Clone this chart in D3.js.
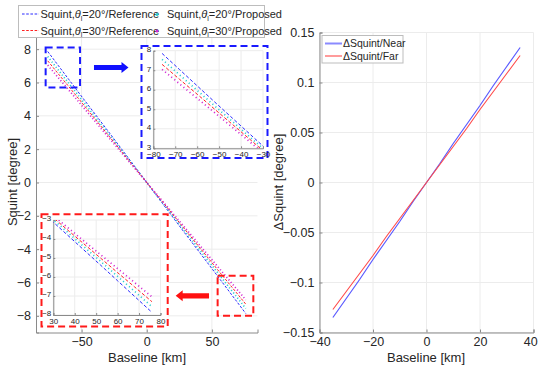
<!DOCTYPE html>
<html>
<head>
<meta charset="utf-8">
<script src="https://cdn.jsdelivr.net/npm/d3@7"></script>
<style>
  html, body { margin: 0; padding: 0; background: #fff; }
  svg { display: block; font-family: "Liberation Sans", Arial, sans-serif; }
</style>
</head>
<body>
<svg id="chart" width="539" height="367"></svg>
<script>
// ---- Left panel: squint vs. baseline ----
const baseline = [-76, -68, -60, -52, -44, -36, -28, -20, -12, -4, 4, 12, 20, 28, 36, 44, 52, 60, 68, 76];
const ref20 = [7.86, 7.03, 6.20, 5.37, 4.55, 3.73, 2.91, 2.08, 1.25, 0.42, -0.42, -1.25, -2.08, -2.91, -3.73, -4.55, -5.37, -6.20, -7.03, -7.86];
const prop20 = [7.56, 6.76, 5.97, 5.17, 4.38, 3.58, 2.79, 1.99, 1.19, 0.40, -0.40, -1.19, -1.99, -2.79, -3.58, -4.38, -5.17, -5.97, -6.76, -7.56];
const ref30 = [7.30, 6.53, 5.77, 5.00, 4.23, 3.46, 2.69, 1.92, 1.15, 0.38, -0.38, -1.15, -1.92, -2.69, -3.46, -4.23, -5.00, -5.77, -6.53, -7.30];
const prop30 = [7.04, 6.30, 5.56, 4.82, 4.08, 3.33, 2.59, 1.85, 1.11, 0.37, -0.37, -1.11, -1.85, -2.59, -3.33, -4.08, -4.82, -5.56, -6.30, -7.04];

const leftXTicks = [-50, 0, 50];
const leftYTicks = [-8, -6, -4, -2, 0, 2, 4, 6, 8];
const upperInsetXTicks = [-80, -70, -60, -50, -40, -30];
const upperInsetYTicks = [3, 4, 5, 6, 7, 8];
const lowerInsetXTicks = [30, 40, 50, 60, 70, 80];
const lowerInsetYTicks = [-8, -7, -6, -5, -4, -3];

// ---- Right panel: squint difference vs. baseline ----
const dBaseline = [-35, -30, -25, -20, -15, -10, -5, 0, 5, 10, 15, 20, 25, 30, 35];
const dNear = [-0.135, -0.116, -0.097, -0.077, -0.058, -0.039, -0.019, 0, 0.019, 0.039, 0.058, 0.077, 0.097, 0.116, 0.135];
const dFar = [-0.127, -0.109, -0.091, -0.073, -0.054, -0.036, -0.018, 0, 0.018, 0.036, 0.054, 0.073, 0.091, 0.109, 0.127];
const rightXTicks = [-40, -20, 0, 20, 40];
const rightYTicks = [-0.15, -0.1, -0.05, 0, 0.05, 0.1, 0.15];

const series = [
  { name: "ref20", values: ref20, color: "#2b2bff", kind: "dash", angle: "20", label: "Reference" },
  { name: "prop20", values: prop20, color: "#2ccfcf", kind: "dot", angle: "20", label: "Proposed" },
  { name: "ref30", values: ref30, color: "#ff2222", kind: "dash", angle: "30", label: "Reference" },
  { name: "prop30", values: prop30, color: "#d22ad2", kind: "dot", angle: "30", label: "Proposed" }
];

const svg = d3.select("#chart");
const axisColor = "#8a8a8a";
const gridColor = "#ececec";
const textColor = "#262626";

function styleFor(sel, s, scale) {
  sel.attr("fill", "none").attr("stroke", s.color);
  if (s.kind === "dash") {
    sel.attr("stroke-width", 1).attr("stroke-dasharray", (2.6 * scale) + "," + (1.6 * scale));
  } else {
    sel.attr("stroke-width", 1.7).attr("stroke-dasharray", "1.1," + (2.2 * scale)).attr("stroke-linecap", "butt");
  }
}

// Draws a set of axes (grid, lines, ticks, labels) in a given rectangle
function drawAxes(g, x, y, xt, yt, opts) {
  const [x0, x1] = x.range();
  const [y0, y1] = y.range(); // y0 bottom, y1 top
  const grid = g.append("g");
  xt.forEach(v => grid.append("line").attr("x1", x(v)).attr("x2", x(v)).attr("y1", y0).attr("y2", y1)
    .attr("stroke", gridColor).attr("stroke-width", 1));
  yt.forEach(v => grid.append("line").attr("y1", y(v)).attr("y2", y(v)).attr("x1", x0).attr("x2", x1)
    .attr("stroke", gridColor).attr("stroke-width", 1));

  const xa = g.append("g").attr("transform", `translate(0,${y0})`)
    .call(d3.axisBottom(x).tickValues(xt).tickSize(-opts.tick).tickPadding(opts.pad).tickFormat(opts.xfmt || d3.format("d")));
  const ya = g.append("g").attr("transform", `translate(${x0},0)`)
    .call(d3.axisLeft(y).tickValues(yt).tickSize(-opts.tick).tickPadding(opts.pad).tickFormat(opts.yfmt || d3.format("d")));
  [xa, ya].forEach(a => {
    a.select(".domain").attr("stroke", axisColor);
    a.selectAll(".tick line").attr("stroke", axisColor);
    a.selectAll(".tick text").attr("fill", textColor).attr("font-size", opts.font)
      .attr("font-family", "'Liberation Sans', Arial, sans-serif");
  });
  return { xa, ya };
}

// ---------------- Left panel ----------------
const xL = d3.scaleLinear().domain([-85, 85]).range([36, 257.5]);
const yL = d3.scaleLinear().domain([-9, 9]).range([332.5, 32.5]);
const gL = svg.append("g");
drawAxes(gL, xL, yL, leftXTicks, leftYTicks, { tick: 3, pad: 5, font: "12.5px" });

const lineL = d3.line().x((d, i) => xL(baseline[i])).y(d => yL(d));
series.forEach(s => {
  gL.append("path").datum(s.values).attr("d", lineL).call(sel => styleFor(sel, s, 1));
});

// axis titles
svg.append("text").attr("x", 147).attr("y", 362).attr("text-anchor", "middle")
  .attr("font-size", "13px").attr("fill", textColor).text("Baseline [km]");
svg.append("text").attr("transform", "translate(17,182) rotate(-90)").attr("text-anchor", "middle")
  .attr("font-size", "13px").attr("fill", textColor).text("Squint [degree]");

// zoom-region markers on the main plot
const upperRegion = { x: [-77.6, -51.2], y: [5.7, 8.1] };
const lowerRegion = { x: [54.4, 81.8], y: [-8.0, -5.6] };
function regionBox(r, color) {
  svg.append("rect")
    .attr("x", xL(r.x[0])).attr("y", yL(r.y[1]))
    .attr("width", xL(r.x[1]) - xL(r.x[0])).attr("height", yL(r.y[0]) - yL(r.y[1]))
    .attr("fill", "none").attr("stroke", color).attr("stroke-width", 2).attr("stroke-dasharray", "7,4");
}
regionBox(upperRegion, "#1a1aff");
regionBox(lowerRegion, "#ff1a1a");

// arrows pointing at the insets
function arrow(fromX, toX, yv, color) {
  const y0 = yL(yv);
  const xa = xL(fromX), xb = xL(toX);
  const dir = Math.sign(xb - xa);
  const headLen = 7, headH = 5.5, shaftH = 2.6;
  const xh = xb - dir * headLen;
  const pts = [[xa, y0 - shaftH], [xh, y0 - shaftH], [xh, y0 - headH], [xb, y0], [xh, y0 + headH], [xh, y0 + shaftH], [xa, y0 + shaftH]];
  svg.append("polygon").attr("points", pts.map(p => p.join(",")).join(" ")).attr("fill", color);
}
arrow(-40.5, -14, 6.9, "#1010ff");
arrow(47.8, 22.2, -6.8, "#ff1010");

// ---------------- Insets ----------------
function inset(cfg) {
  const g = svg.append("g");
  g.append("rect").attr("x", cfg.box[0]).attr("y", cfg.box[1])
    .attr("width", cfg.box[2] - cfg.box[0]).attr("height", cfg.box[3] - cfg.box[1])
    .attr("fill", "#fff").attr("stroke", cfg.color).attr("stroke-width", 2).attr("stroke-dasharray", "7,4");
  const x = d3.scaleLinear().domain(cfg.xd).range([cfg.ax[0], cfg.ax[1]]);
  const y = d3.scaleLinear().domain(cfg.yd).range([cfg.ax[3], cfg.ax[2]]);
  const a = drawAxes(g, x, y, cfg.xt, cfg.yt, { tick: 2, pad: 2, font: "8px" });
  a.ya.selectAll(".tick text").attr("dy", "0.1em");
  a.xa.selectAll(".tick text").attr("dy", "0.9em");
  const clipId = cfg.id + "-clip";
  g.append("clipPath").attr("id", clipId).append("rect")
    .attr("x", cfg.ax[0]).attr("y", cfg.ax[2]).attr("width", cfg.ax[1] - cfg.ax[0]).attr("height", cfg.ax[3] - cfg.ax[2]);
  const line = d3.line().x((d, i) => x(baseline[i])).y(d => y(d));
  const lines = g.append("g").attr("clip-path", `url(#${clipId})`);
  series.forEach(s => {
    lines.append("path").datum(s.values).attr("d", line).call(sel => styleFor(sel, s, 1.3));
  });
}
inset({ id: "up", box: [141.5, 46, 267.5, 158], ax: [153.3, 263, 50.7, 148.3],
  xd: [-80, -30], yd: [3, 8], xt: upperInsetXTicks, yt: upperInsetYTicks, color: "#1a1aff" });
inset({ id: "lo", box: [41.5, 214.3, 167.7, 326.5], ax: [53.3, 160.5, 220, 315],
  xd: [30, 80], yd: [-8, -3], xt: lowerInsetXTicks, yt: lowerInsetYTicks, color: "#ff1a1a" });

// ---------------- Left legend ----------------
const leg = svg.append("g");
leg.append("rect").attr("x", 18.5).attr("y", 5.5).attr("width", 246).attr("height", 32)
  .attr("fill", "#fff").attr("stroke", "#bdbdbd").attr("stroke-width", 1);
const legPos = [
  { s: series[0], x: 22, y: 14 }, { s: series[1], x: 151, y: 14 },
  { s: series[2], x: 22, y: 30.5 }, { s: series[3], x: 151, y: 30.5 }
];
legPos.forEach(p => {
  if (p.s.kind === "dash") {
    leg.append("line").attr("x1", p.x).attr("x2", p.x + 17).attr("y1", p.y).attr("y2", p.y)
      .attr("stroke", p.s.color).attr("stroke-width", 1).attr("stroke-dasharray", "2.6,1.6");
  } else {
    leg.append("circle").attr("cx", p.x + 6).attr("cy", p.y + 0.5).attr("r", 1.5).attr("fill", p.s.color);
  }
  const tx = p.s.kind === "dash" ? p.x + 18.5 : p.x + 16;
  const t = leg.append("text").attr("x", tx).attr("y", p.y + 4).attr("font-size", "11px").attr("fill", textColor);
  t.append("tspan").text("Squint,");
  t.append("tspan").attr("font-style", "italic").text("θ");
  t.append("tspan").attr("font-size", "7px").attr("dy", 2.5).text("l");
  t.append("tspan").attr("dy", -2.5).text("=" + p.s.angle + "°/" + p.s.label);
});

// ---------------- Right panel ----------------
const xR = d3.scaleLinear().domain([-40, 40]).range([319.5, 533.5]);
const yR = d3.scaleLinear().domain([-0.15, 0.15]).range([332.5, 32.5]);
const gR = svg.append("g");
const aR = drawAxes(gR, xR, yR, rightXTicks, rightYTicks, { tick: 3, pad: 5, font: "12.5px", yfmt: d => d3.format("")(+d.toFixed(2)) });
// keep the last x tick label inside the page
aR.xa.selectAll(".tick text").filter(d => d === 40).attr("text-anchor", "end").attr("dx", "0.3em");

const lineR = d3.line().x((d, i) => xR(dBaseline[i])).y(d => yR(d));
gR.append("path").datum(dNear).attr("d", lineR).attr("fill", "none").attr("stroke", "#5a5aff").attr("stroke-width", 1.2);
gR.append("path").datum(dFar).attr("d", lineR).attr("fill", "none").attr("stroke", "#ff4a4a").attr("stroke-width", 1.1);

svg.append("text").attr("x", 426).attr("y", 362).attr("text-anchor", "middle")
  .attr("font-size", "13px").attr("fill", textColor).text("Baseline [km]");
svg.append("text").attr("transform", "translate(283,182) rotate(-90)").attr("text-anchor", "middle")
  .attr("font-size", "13px").attr("fill", textColor).text("ΔSquint [degree]");

const legR = svg.append("g");
legR.append("rect").attr("x", 322).attr("y", 35.5).attr("width", 81).attr("height", 27.5)
  .attr("fill", "#fff").attr("stroke", "#bdbdbd").attr("stroke-width", 1);
[{ y: 43.5, color: "#8a8aff", w: 2, label: "ΔSquint/Near" }, { y: 56, color: "#ff4a4a", w: 1.1, label: "ΔSquint/Far" }]
  .forEach(e => {
    legR.append("line").attr("x1", 325).attr("x2", 342).attr("y1", e.y).attr("y2", e.y)
      .attr("stroke", e.color).attr("stroke-width", e.w);
    legR.append("text").attr("x", 343).attr("y", e.y + 3.8).attr("font-size", "10.5px")
      .attr("fill", textColor).text(e.label);
  });
</script>
</body>
</html>
